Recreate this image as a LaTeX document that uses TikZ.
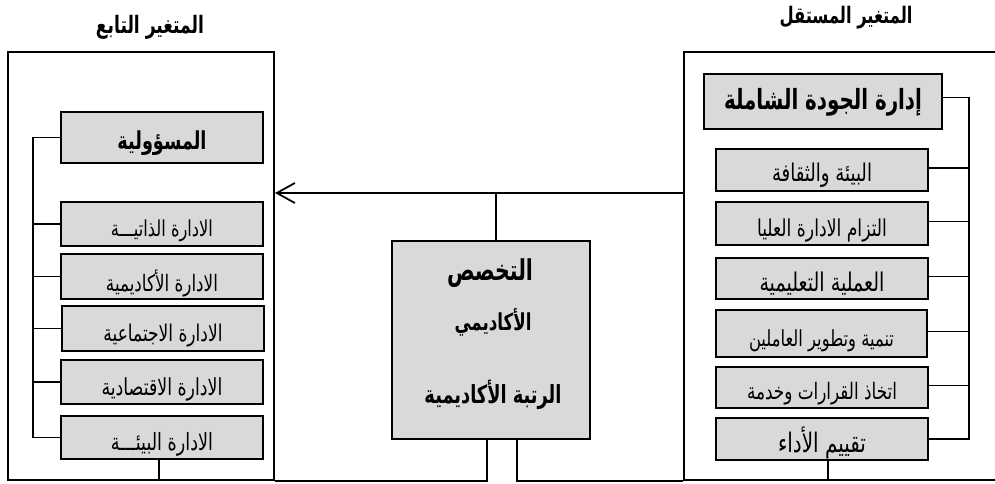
\documentclass[tikz,border=0pt]{standalone}
\usepackage{fontspec}
\usetikzlibrary{arrows.meta}
\TeXXeTstate=1
\newfontfamily\arabicfont[Script=Arabic]{DejaVu Sans}
\newcommand\artxt[2]{\scalebox{1}[1.35]{\resizebox{#1pt}{!}{\arabicfont #2}}}
\newcommand\arbf[2]{\scalebox{1}[1.4]{\resizebox{#1pt}{!}{\arabicfont\bfseries #2}}}
\definecolor{boxgray}{HTML}{D9D9D9}
\begin{document}
\begin{tikzpicture}[x=1pt,y=-1pt,
  outerbox/.style={draw=black,line width=2pt,inner sep=0pt},
  gbox/.style={draw=black,fill=boxgray,line width=2.2pt,inner sep=0pt},
  link/.style={draw=black,line width=1.8pt},
  txt/.style={inner sep=0pt}]
\clip (0,0) rectangle (995,483);
% outer boxes
\node[outerbox,minimum width=266pt,minimum height=428pt] (L) at (141,266) {};
\node[outerbox,minimum width=316pt,minimum height=428pt] (R) at (842,266) {};
% titles
\node[txt] (tl) at (150,27) {\arbf{108}{\beginR المتغير التابع\endR}};
\node[txt] (tr) at (846,18) {\arbf{133}{\beginR المتغير المستقل\endR}};
% left inner boxes
\node[gbox,minimum width=202pt,minimum height=51pt] (m) at (162,137.5) {};
\node[gbox,minimum width=202pt,minimum height=44pt] (l1) at (162,224) {};
\node[gbox,minimum width=202pt,minimum height=45pt] (l2) at (162,276.5) {};
\node[gbox,minimum width=202pt,minimum height=45pt] (l3) at (163,328.5) {};
\node[gbox,minimum width=202pt,minimum height=44pt] (l4) at (162,382) {};
\node[gbox,minimum width=202pt,minimum height=43pt] (l5) at (162,437.5) {};
\node[txt] (mt) at ([yshift=-6pt]m.center) {\arbf{89}{\beginR المسؤولية\endR}};
\node[txt] (l1t) at ([yshift=-7pt]l1.center) {\artxt{102}{\beginR الادارة الذاتيـــة\endR}};
\node[txt] (l2t) at ([yshift=-7pt]l2.center) {\artxt{112}{\beginR الادارة الأكاديمية\endR}};
\node[txt] (l3t) at ([yshift=-7pt]l3.center) {\artxt{119}{\beginR الادارة الاجتماعية\endR}};
\node[txt] (l4t) at ([yshift=-7pt]l4.center) {\artxt{121}{\beginR الادارة الاقتصادية\endR}};
\node[txt] (l5t) at ([yshift=-7pt]l5.center) {\artxt{102}{\beginR الادارة البيئـــة\endR}};
% right inner boxes
\node[gbox,minimum width=238pt,minimum height=55pt] (r0) at (823,101.5) {};
\node[gbox,minimum width=212pt,minimum height=42pt] (r1) at (822,170) {};
\node[gbox,minimum width=212pt,minimum height=43pt] (r2) at (822,223.5) {};
\node[gbox,minimum width=212pt,minimum height=41pt] (r3) at (822,278.5) {};
\node[gbox,minimum width=211pt,minimum height=47pt] (r4) at (821.5,333.5) {};
\node[gbox,minimum width=212pt,minimum height=41pt] (r5) at (822,387.5) {};
\node[gbox,minimum width=212pt,minimum height=42pt] (r6) at (822,439) {};
\node[txt] (r0t) at ([yshift=-1pt]r0.center) {\arbf{198}{\beginR إدارة الجودة الشاملة\endR}};
\node[txt] (r1t) at ([yshift=-5pt]r1.center) {\artxt{100}{\beginR البيئة والثقافة\endR}};
\node[txt] (r2t) at ([yshift=-7pt]r2.center) {\artxt{130}{\beginR التزام الادارة العليا\endR}};
\node[txt] (r3t) at ([yshift=-5pt]r3.center) {\artxt{125}{\beginR العملية التعليمية\endR}};
\node[txt] (r4t) at ([yshift=-7pt]r4.center) {\artxt{145}{\beginR تنمية وتطوير العاملين\endR}};
\node[txt] (r5t) at ([yshift=-6pt]r5.center) {\artxt{150}{\beginR اتخاذ القرارات وخدمة\endR}};
\node[txt] (r6t) at ([yshift=-4pt]r6.center) {\artxt{88}{\beginR تقييم الأداء\endR}};
% centre box
\node[gbox,minimum width=198pt,minimum height=198pt] (c) at (491,340) {};
\node[txt] (c1) at (490,273) {\arbf{86}{\beginR التخصص\endR}};
\node[txt] (c2) at (493,322) {\arbf{77}{\beginR الأكاديمي\endR}};
\node[txt] (c3) at (493,395) {\arbf{137}{\beginR الرتبة الأكاديمية\endR}};
% connectors left
\coordinate (lbus) at (33,0);
\draw[link] (m.west) -- (m.west -| lbus) -- (l5.west -| lbus) -- (l5.west);
\foreach \n in {l1,l2,l3,l4} \draw[link] (\n.west) -- (\n.west -| lbus);
\draw[link] ([xshift=-3pt]l5.south) -- ([xshift=-3pt]l5.south |- L.south);
% connectors right
\coordinate (rbus) at (969,0);
\draw[link] ([yshift=4pt]r0.east) -- ([yshift=4pt]r0.east -| rbus) -- (r6.east -| rbus) -- (r6.east);
\foreach \n in {r1,r2,r3,r4,r5} \draw[link] ([yshift=2pt]\n.east) -- ([yshift=2pt]\n.east -| rbus);
\draw[link] ([xshift=6pt]r6.south) -- ([xshift=6pt]r6.south |- R.south);
% arrow and centre links
\coordinate (ay) at (0,193);
\draw[link,-{Straight Barb[length=18pt,width=20pt,line width=1.8pt]}] (R.west |- ay) -- (L.east |- ay);
\draw[link] ([xshift=5pt]c.north) -- ([xshift=5pt]c.north |- ay);
\draw[link] ([xshift=-4pt]c.south) |- (L.south east);
\draw[link] ([xshift=26pt]c.south) |- (R.south west);
\end{tikzpicture}
\end{document}
